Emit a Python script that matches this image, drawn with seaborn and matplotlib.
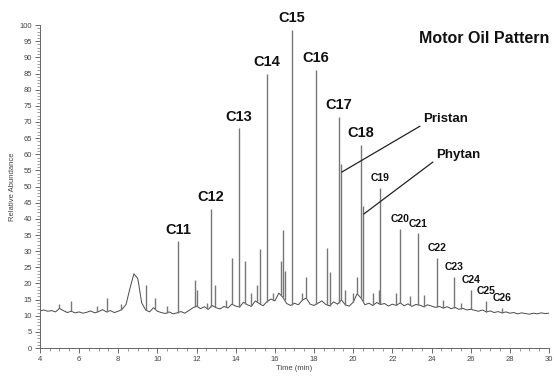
import numpy as np
import pandas as pd
import matplotlib
matplotlib.use("Agg")
import matplotlib.pyplot as plt
import seaborn as sns
from matplotlib.ticker import MultipleLocator

# === Data ===

# n-alkane peaks (retention time in min, relative abundance)
alkane_names = ["C11", "C12", "C13", "C14", "C15", "C16", "C17", "C18",
                "C19", "C20", "C21", "C22", "C23", "C24", "C25", "C26"]
alkane_time = [11.05, 12.73, 14.15, 15.6, 16.87, 18.1, 19.27, 20.4,
               21.37, 22.4, 23.3, 24.27, 25.15, 26.0, 26.8, 27.6]
alkane_height = [33, 43, 68, 85, 98.5, 86, 71.5, 63,
                 49.5, 37, 35.5, 28, 22, 18, 14.7, 12.5]

# isoprenoids
iso_names = ["Pristan", "Phytan"]
iso_time = [19.38, 20.5]
iso_height = [57, 44]

# smaller unlabelled peaks
minor_time = [5.0, 5.6, 6.9, 7.45, 8.15, 9.4, 9.9, 10.5, 11.9, 12.0, 12.55,
              12.95, 13.5, 13.8, 14.5, 14.8, 15.1, 15.23, 15.9, 16.3, 16.4,
              16.5, 17.4, 17.6, 18.66, 18.8, 19.6, 20.0, 20.2, 21.0, 21.3,
              22.2, 22.9, 23.6, 24.6, 25.5]
minor_height = [13.5, 14.5, 13, 15.5, 13.5, 19.5, 15.5, 13, 21, 18, 14,
                19.5, 15, 27.8, 27, 17, 19.5, 30.6, 17, 27, 36.5,
                24, 17, 22, 31, 23.5, 18, 17, 22, 17, 18,
                17, 16, 16.5, 15, 14]

# baseline trace sampled every 0.2 min from 4 to 30 min
base_values = [
    11.5, 11.8, 11.4, 11.6, 11.2, 12.3, 11.6, 11.0, 11.4, 10.9,
    11.2, 10.8, 11.1, 11.5, 10.9, 11.3, 11.9, 11.2, 11.6, 11.0,
    11.4, 12.0, 13.5, 18.5, 23.0, 21.5, 14.0, 11.8, 11.2, 12.5,
    11.4, 11.0, 10.7, 11.2, 10.6, 10.9, 11.3, 10.8, 11.6, 12.4,
    13.0, 12.2, 12.8, 12.0, 13.2, 12.5, 12.1, 12.9, 12.4, 13.6,
    13.0, 12.7, 14.2, 13.4, 12.9, 14.6, 13.8, 13.1, 14.4, 15.2,
    14.6, 17.0, 15.8, 13.8, 13.2, 13.9, 13.4, 14.8, 15.5, 13.6,
    13.2, 13.9, 14.6, 13.5, 13.1, 14.3, 13.6, 14.9, 13.4, 13.0,
    14.2, 16.8, 15.5, 13.4, 13.9, 13.2, 14.1, 13.5, 13.8, 13.0,
    13.6, 13.2, 14.0, 13.1, 13.7, 12.9, 13.5, 13.3, 12.8, 13.4,
    13.0, 12.6, 12.9, 12.4, 12.8, 12.2, 12.6, 12.0, 12.3, 11.8,
    12.0, 11.7, 11.4, 11.8, 11.2, 11.5, 11.0, 11.3, 10.9, 11.2,
    10.8, 11.0, 10.6, 10.9, 10.7, 10.5, 10.8, 10.6, 10.9, 10.7, 10.8,
]
base_time = np.linspace(4, 30, len(base_values))

baseline = pd.DataFrame({"time": base_time, "abundance": base_values})

# === Plot ===
sns.set_theme(style="ticks")
plt.rcParams["font.family"] = ["Liberation Sans", "DejaVu Sans"]

fig = plt.figure(figsize=(5.54, 3.8), dpi=100)
ax = fig.add_axes([0.072, 0.084, 0.919, 0.850])

sns.lineplot(data=baseline, x="time", y="abundance", ax=ax,
             color="#4a4a4a", linewidth=0.7)

# peaks rise from the baseline
all_t = np.array(alkane_time + iso_time + minor_time)
all_h = np.array(alkane_height + iso_height + minor_height)
foot = np.interp(all_t, base_time, base_values)
ax.vlines(all_t, foot, all_h, color="#777777", linewidth=1.0)

# peak labels: big bold up to C18, smaller from C19
for name, t, h in zip(alkane_names, alkane_time, alkane_height):
    size = 10.5 if int(name[1:]) <= 18 else 7.5
    ax.annotate(name, (t, h), xytext=(0, 3.5), textcoords="offset points",
                ha="center", va="bottom", fontsize=size, fontweight="bold",
                color="#111111")

# leader lines for pristane / phytane
leader_end = [(23.41, 68.7), (24.07, 57.6)]
for name, t, h, (tx, ty) in zip(iso_names, iso_time, iso_height, leader_end):
    ax.plot([t + 0.04, tx], [h - 2.5, ty], color="#222222", linewidth=0.9)
    ax.text(tx + 0.15, ty + 2.3, name, ha="left", va="center",
            fontsize=9.5, fontweight="bold", color="#111111")

ax.text(1.0, 0.96, "Motor Oil Pattern", transform=ax.transAxes,
        ha="right", va="center", fontsize=11.5, fontweight="bold",
        color="#111111")

ax.set_xlim(4, 30)
ax.set_ylim(0, 100)
ax.xaxis.set_major_locator(MultipleLocator(2))
ax.xaxis.set_minor_locator(MultipleLocator(0.5))
ax.yaxis.set_major_locator(MultipleLocator(5))
ax.yaxis.set_minor_locator(MultipleLocator(1))
ax.tick_params(which="major", length=3.5, width=0.6, colors="#555555",
               labelsize=5.5, labelcolor="#444444", pad=2)
ax.tick_params(which="minor", length=2, width=0.5, colors="#777777")
ax.set_xlabel("Time (min)", fontsize=5.5, color="#444444", labelpad=2)
ax.set_ylabel("Relative Abundance", fontsize=5.5, color="#444444", labelpad=3)

for side in ["top", "right"]:
    ax.spines[side].set_visible(False)
for side in ["left", "bottom"]:
    ax.spines[side].set_color("#666666")
    ax.spines[side].set_linewidth(0.7)

fig.savefig("out.png", dpi=100)
